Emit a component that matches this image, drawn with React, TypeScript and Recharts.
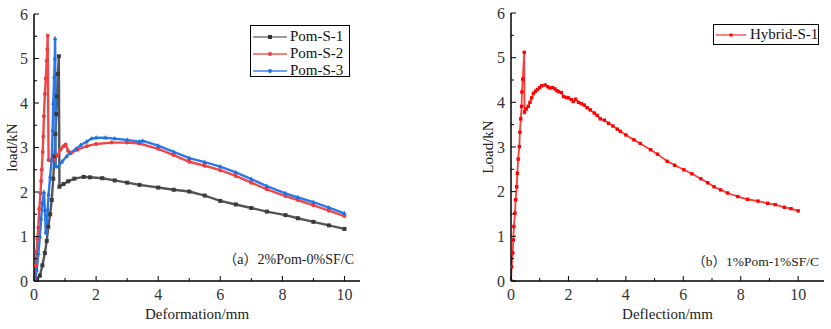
import { LineChart, Line, XAxis, YAxis } from "recharts";

type Pt = [number, number];

const FONT = '"Liberation Serif", "Noto Sans CJK SC", serif';

// tick values (labels shown on even x / whole y)
const xTicks = [0, 1, 2, 3, 4, 5, 6, 7, 8, 9, 10];
const yTicks = [0, 0.5, 1, 1.5, 2, 2.5, 3, 3.5, 4, 4.5, 5, 5.5, 6];

const pomS1: Pt[] = [
  [0, 0], [0.1, 0.05], [0.19, 0.12], [0.27, 0.35], [0.35, 0.63], [0.41, 0.9],
  [0.46, 1.22], [0.52, 1.5], [0.57, 1.82], [0.62, 2.3], [0.66, 2.8], [0.69, 3.3],
  [0.72, 3.75], [0.74, 4.15], [0.77, 4.65], [0.8, 5.05], [0.82, 2.12], [0.95, 2.18],
  [1.1, 2.24], [1.3, 2.3], [1.6, 2.34], [1.8, 2.33], [2.2, 2.31], [2.6, 2.26],
  [3, 2.21], [3.4, 2.16], [4, 2.1], [4.5, 2.05], [5, 2.01], [5.5, 1.92], [6, 1.8],
  [6.5, 1.72], [7, 1.64], [7.5, 1.56], [8.1, 1.48], [8.5, 1.41], [9, 1.33],
  [9.5, 1.25], [10, 1.17],
];

const pomS2: Pt[] = [
  [0, 0], [0.03, 0.06], [0.06, 0.35], [0.08, 0.65], [0.11, 0.95], [0.14, 1.2],
  [0.17, 1.62], [0.21, 1.97], [0.23, 2.25], [0.25, 2.5], [0.28, 2.9], [0.3, 3.25],
  [0.32, 3.7], [0.35, 4.2], [0.38, 4.55], [0.41, 4.95], [0.43, 5.2], [0.44, 5.51],
  [0.47, 2.72], [0.55, 2.7], [0.65, 2.72], [0.75, 2.82], [0.85, 2.95], [0.95, 3.03],
  [1.02, 3.07], [1.1, 2.92], [1.2, 2.88], [1.4, 2.95], [1.7, 3.03], [2, 3.08],
  [2.5, 3.11], [3, 3.11], [3.4, 3.09], [4, 2.97], [4.5, 2.83], [5, 2.68],
  [5.5, 2.59], [6, 2.49], [6.5, 2.36], [7, 2.21], [7.5, 2.06], [8.1, 1.91],
  [8.5, 1.82], [9, 1.7], [9.5, 1.58], [10, 1.46],
];

const pomS3: Pt[] = [
  [0, 0], [0.05, 0.1], [0.09, 0.25], [0.14, 0.62], [0.19, 1.0], [0.23, 1.4],
  [0.27, 1.75], [0.32, 2.0], [0.35, 1.6], [0.38, 1.1], [0.41, 1.08], [0.44, 1.6],
  [0.47, 1.95], [0.52, 2.35], [0.57, 2.72], [0.6, 3.39], [0.62, 4.0], [0.65, 4.59],
  [0.67, 5.0], [0.68, 5.45], [0.7, 2.57], [0.78, 2.57], [0.9, 2.68], [1.05, 2.8],
  [1.16, 2.87], [1.35, 2.97], [1.5, 3.05], [1.69, 3.13], [1.85, 3.2], [2, 3.22],
  [2.3, 3.22], [2.6, 3.2], [3, 3.17], [3.4, 3.13], [3.5, 3.15], [4, 3.04],
  [4.5, 2.9], [5, 2.76], [5.5, 2.67], [6, 2.57], [6.5, 2.44], [7, 2.29],
  [7.5, 2.13], [8.1, 1.97], [8.5, 1.88], [9, 1.77], [9.5, 1.65], [10, 1.52],
];

const hybridS1: Pt[] = [
  [0, 0], [0.02, 0.32], [0.06, 0.63], [0.08, 0.92], [0.1, 1.22], [0.14, 1.52],
  [0.16, 1.82], [0.2, 2.11], [0.22, 2.41], [0.25, 2.73], [0.29, 3.01], [0.31, 3.33],
  [0.34, 3.63], [0.37, 3.91], [0.38, 4.23], [0.41, 4.52], [0.46, 5.12], [0.47, 3.78],
  [0.53, 3.85], [0.6, 3.91], [0.66, 4.0], [0.72, 4.1], [0.78, 4.2], [0.85, 4.25],
  [0.92, 4.29], [1.0, 4.33], [1.07, 4.37], [1.19, 4.39], [1.28, 4.35], [1.36, 4.32],
  [1.45, 4.33], [1.53, 4.3], [1.6, 4.26], [1.65, 4.24], [1.75, 4.22], [1.83, 4.13],
  [1.92, 4.11], [2.0, 4.1], [2.1, 4.06], [2.17, 4.02], [2.25, 4.07], [2.35, 4.0],
  [2.45, 3.97], [2.55, 3.94], [2.65, 3.88], [2.76, 3.83], [2.9, 3.76], [3.0, 3.71],
  [3.11, 3.63], [3.25, 3.6], [3.4, 3.53], [3.55, 3.47], [3.7, 3.4], [3.81, 3.35],
  [4.0, 3.27], [4.28, 3.16], [4.5, 3.08], [4.86, 2.94], [5.1, 2.84], [5.44, 2.68],
  [5.7, 2.59], [6.02, 2.49], [6.3, 2.4], [6.61, 2.29], [6.85, 2.2], [7.07, 2.11],
  [7.3, 2.04], [7.54, 1.97], [7.9, 1.89], [8.24, 1.83], [8.6, 1.79], [8.94, 1.74],
  [9.2, 1.71], [9.52, 1.65], [9.75, 1.62], [10, 1.57],
];

const toRows = (pts: Pt[]) => pts.map(([x, y]) => ({ x, y }));

type Shape = "square" | "circle" | "triangle";

const makeDot = (shape: Shape, color: string, r: number) => (props: any) => {
  const { cx, cy, index } = props;
  if (cx == null || cy == null) return <g key={`d-${index}`} />;
  if (shape === "circle")
    return <circle key={`d-${index}`} cx={cx} cy={cy} r={r} fill={color} />;
  if (shape === "triangle")
    return (
      <polygon
        key={`d-${index}`}
        points={`${cx},${cy - r - 0.5} ${cx - r},${cy + r - 0.5} ${cx + r},${cy + r - 0.5}`}
        fill={color}
      />
    );
  return <rect key={`d-${index}`} x={cx - r} y={cy - r} width={r * 2} height={r * 2} fill={color} />;
};

// inward ticks drawn by hand, tickSize is 0 so x/y arrive offset by tickMargin
const XTick = (props: any) => {
  const { x, y, payload } = props;
  const v = payload.value;
  const major = v % 2 === 0;
  const base = y - 8;
  return (
    <g>
      <line x1={x} x2={x} y1={base} y2={base - (major ? 5 : 3)} stroke="#000" />
      {major && (
        <text x={x} y={y} dy="0.68em" textAnchor="middle" fontSize={16} fill="#333" fontFamily={FONT}>
          {v}
        </text>
      )}
    </g>
  );
};

const YTick = (props: any) => {
  const { x, y, payload } = props;
  const v = payload.value;
  const major = Number.isInteger(v);
  const base = x + 6;
  return (
    <g>
      <line x1={base} x2={base + (major ? 5 : 3)} y1={y} y2={y} stroke="#000" />
      {major && (
        <text x={x} y={y} dy="0.355em" textAnchor="end" fontSize={16} fill="#333" fontFamily={FONT}>
          {v}
        </text>
      )}
    </g>
  );
};

const axisLine = { stroke: "#000", strokeWidth: 1.5 };

function Frame({ xMax, xLabel, yLabel, yWidth, yOffset }: any) {
  return [
    <XAxis
      key="xb"
      xAxisId="b"
      type="number"
      dataKey="x"
      domain={[0, xMax]}
      ticks={xTicks}
      interval={0}
      tickSize={0}
      tickMargin={8}
      tickLine={false}
      tick={<XTick />}
      axisLine={axisLine}
      height={48}
      allowDataOverflow
      label={{ value: xLabel, position: "insideBottom", offset: 10, fontSize: 15, fill: "#222", fontFamily: FONT }}
    />,
    <XAxis key="xt" xAxisId="t" type="number" orientation="top" domain={[0, xMax]} tick={false} tickLine={false} axisLine={axisLine} height={0} />,
    <YAxis
      key="yl"
      yAxisId="l"
      type="number"
      domain={[0, 6]}
      ticks={yTicks}
      interval={0}
      tickSize={0}
      tickMargin={6}
      tickLine={false}
      tick={<YTick />}
      axisLine={axisLine}
      width={yWidth}
      allowDataOverflow
      label={{
        value: yLabel,
        angle: -90,
        position: "insideLeft",
        offset: yOffset,
        fontSize: 15,
        fill: "#222",
        fontFamily: FONT,
        style: { textAnchor: "middle" },
      }}
    />,
    <YAxis key="yr" yAxisId="r" type="number" orientation="right" domain={[0, 6]} tick={false} tickLine={false} axisLine={axisLine} width={0} />,
  ];
}

const legendRow = (label: string, line: string, mark: string, shape: Shape) => (
  <div key={label} style={{ display: "flex", alignItems: "center", height: 17 }}>
    <svg width={36} height={10} style={{ marginLeft: 2 }}>
      <line x1={0} x2={34} y1={5} y2={5} stroke={line} strokeWidth={1.5} />
      {shape === "circle" ? <circle cx={17} cy={5} r={2} fill={mark} /> : <rect x={15} y={3} width={4} height={4} fill={mark} />}
    </svg>
    <span style={{ marginLeft: 1 }}>{label}</span>
  </div>
);

export default function App() {
  return (
    <div style={{ position: "absolute", left: 0, top: 0, width: 831, height: 329, background: "#fff", fontFamily: FONT }}>
      {/* left chart */}
      <div style={{ position: "absolute", left: 0, top: 0 }}>
        <LineChart width={420} height={329} margin={{ top: 14, right: 60, bottom: 0, left: 0 }}>
          {Frame({ xMax: 10.5, xLabel: "Deformation/mm", yLabel: "load/kN", yWidth: 34, yOffset: 12 })}
          <Line xAxisId="b" yAxisId="l" data={toRows(pomS1)} dataKey="y" name="Pom-S-1" stroke="#555" strokeWidth={2.4} dot={makeDot("square", "#3a3a3a", 2)} isAnimationActive={false} />
          <Line xAxisId="b" yAxisId="l" data={toRows(pomS2)} dataKey="y" name="Pom-S-2" stroke="#f04848" strokeWidth={2.4} dot={makeDot("circle", "#ee3b3b", 2)} isAnimationActive={false} />
          <Line xAxisId="b" yAxisId="l" data={toRows(pomS3)} dataKey="y" name="Pom-S-3" stroke="#2a78ea" strokeWidth={2.4} dot={makeDot("triangle", "#1e6fe0", 2.2)} isAnimationActive={false} />
        </LineChart>
      </div>
      <div style={{ position: "absolute", left: 250, top: 25, width: 100, height: 52, border: "1px solid #000", fontSize: 15, color: "#111", paddingTop: 2, boxSizing: "border-box", whiteSpace: "nowrap" }}>
        {legendRow("Pom-S-1", "#777", "#333", "square")}
        {legendRow("Pom-S-2", "#f25757", "#ee3b3b", "circle")}
        {legendRow("Pom-S-3", "#3b82f0", "#1e6fe0", "circle")}
      </div>
      <div style={{ position: "absolute", right: 831 - 354, top: 248, fontSize: 14, color: "#222", whiteSpace: "nowrap" }}>
        （a）2%Pom-0%SF/C
      </div>

      {/* right chart */}
      <div style={{ position: "absolute", left: 430, top: 0 }}>
        <LineChart width={401} height={329} margin={{ top: 13, right: 7, bottom: 0, left: 0 }}>
          {Frame({ xMax: 10.9, xLabel: "Deflection/mm", yLabel: "Load/kN", yWidth: 81, yOffset: 58 })}
          <Line xAxisId="b" yAxisId="l" data={toRows(hybridS1)} dataKey="y" name="Hybrid-S-1" stroke="#ff3a3a" strokeWidth={1.8} dot={makeDot("square", "#ff0000", 1.7)} isAnimationActive={false} />
        </LineChart>
      </div>
      <div style={{ position: "absolute", left: 713, top: 24, width: 106, height: 21, border: "1px solid #000", fontSize: 15, color: "#111", boxSizing: "border-box", display: "flex", alignItems: "center", whiteSpace: "nowrap" }}>
        <svg width={32} height={10} style={{ marginLeft: 2, flexShrink: 0 }}>
          <line x1={0} x2={30} y1={5} y2={5} stroke="#ff3030" strokeWidth={1.2} />
          <rect x={13.5} y={3.5} width={3} height={3} fill="#ff0000" />
        </svg>
        <span style={{ marginLeft: 2 }}>Hybrid-S-1</span>
      </div>
      <div style={{ position: "absolute", right: 831 - 819, top: 250, fontSize: 13.5, color: "#222", whiteSpace: "nowrap" }}>
        （b）1%Pom-1%SF/C
      </div>
    </div>
  );
}
